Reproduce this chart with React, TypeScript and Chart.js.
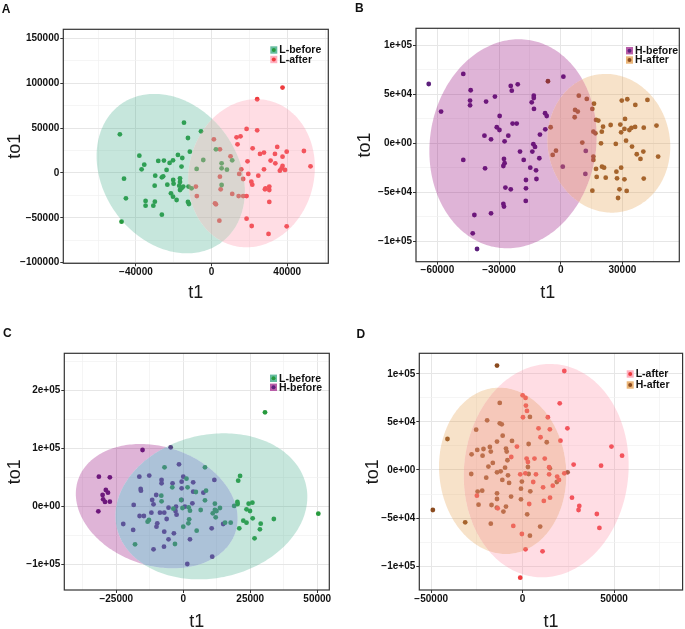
import React, { useEffect, useRef } from 'react';
import { Chart, registerables } from 'chart.js';
Chart.register(...registerables);

const M = '\u2212';
const FONT = "'Liberation Sans', Arial, Helvetica, sans-serif";

// ---------------- Panel A : L-before vs L-after ----------------
const A_L_before: [number, number][] = [
  [-48500, 43100], [-46300, -6300], [-45300, -28300], [-47600, -54300], [-38200, 19300], [-37000, 4100],
  [-35600, 9300], [-34900, -31200], [-34900, -36400], [-30000, -32000], [-30800, -36400], [-29800, -3000],
  [-30100, -14100], [-28200, 13400], [-25200, 13800], [-26300, -4800], [-25600, -3700], [-23800, 3400],
  [-23400, -13000], [-26300, -46500], [-22200, 11200], [-20400, 14100], [-21500, -22700], [-20400, -26400],
  [-20300, -7800], [-20100, -11900], [-18500, -30100], [-17800, 20100], [-16700, -6000], [-16700, -10000],
  [-17100, -14100], [-16700, -19000], [-15900, 7100], [-15500, 16700], [-15000, -15200], [-15900, -17100],
  [-14600, 56100], [-12500, 39000], [-12500, -32300], [-12000, -34600], [-11500, 23800], [-12200, -15200],
  [-10600, -17100], [-5600, 46500], [-4400, 14500], [-7900, 4500], [2300, 26400], [5300, 10800],
  [5300, 5200], [5300, -13400], [8100, 3700], [10900, 14100],
];
const A_L_after: [number, number][] = [
  [37500, 95200], [24100, 82200], [18500, 49100], [24100, 47600], [13200, 39800], [15300, 40900],
  [13700, 32000], [1200, 37500], [4400, 26400], [10000, 18600], [21700, 27500], [19000, 13000],
  [25600, 21200], [27700, 22700], [34700, 29000], [33500, 21200], [31200, 13800], [33700, 10800],
  [37500, 18200], [39700, 23800], [48800, 24500], [52300, 7400], [37500, 7800], [37000, 5200],
  [36100, 2600], [38800, 3400], [27700, 4100], [24700, -3000], [19400, -1100], [14600, -1100],
  [16700, -6700], [15700, 4100], [21000, -9700], [21500, -13000], [18500, -25700], [14300, -25700],
  [16700, -25700], [10900, -23400], [4800, -18200], [4400, -4100], [1800, -33800], [2300, -34900],
  [4100, -53200], [-8300, -15200], [-7800, -25700], [28500, -17100], [30500, -15200], [30500, -19000],
  [30500, -32300], [28200, -18200], [18500, -50900], [21200, -59100], [30100, -68000], [39700, -59500],
];
// ellipse: [centre x, centre y, half-width x, half-height y, correlation]
const A_ell_before = [-21600, -700, 39200, 88900, -0.22];
const A_ell_after = [21100, -300, 33500, 82600, 0.08];
const A_xMajor = [-40000, 0, 40000];
const A_xLabels = [M + '40000', '0', '40000'];
const A_xMinor = [-60000, -20000, 20000, 60000];
const A_yMajor = [-100000, -50000, 0, 50000, 100000, 150000];
const A_yLabels = [M + '100000', M + '50000', '0', '50000', '100000', '150000'];
const A_yMinor = [-75000, -25000, 25000, 75000, 125000];

// ---------------- Panel B : H-before vs H-after ----------------
const B_H_before: [number, number][] = [
  [-64200, 60600], [-58200, 32400], [-47400, 70900], [-47400, -17000], [-43800, 54200], [-44100, 43600],
  [-44100, 38800], [-42000, -73300], [-42800, -92000], [-40700, -108000], [-37100, 7800], [-36300, 42600],
  [-36800, -25600], [-33900, 4100], [-33900, -71600], [-32000, 47700], [-31100, 16400], [-29800, 13600],
  [-29700, 27900], [-27300, 2000], [-27600, -16000], [-27300, -20400], [-27900, -23200], [-26900, -45300],
  [-27900, -62000], [-27600, -64700], [-25500, 7800], [-24300, 58600], [-23800, 53800], [-24300, -47000],
  [-23400, 20100], [-21400, 20100], [-20900, 60300], [-19800, -8500], [-18000, -17000], [-16900, -46000],
  [-16900, -37500], [-17000, -58900], [-14800, -24900], [-14100, 41900], [-13100, 48700], [-13100, 46300],
  [-13000, 35100], [-13300, -1000], [-12500, -3700], [-13800, -8500], [-12000, -27600], [-11800, -36500],
  [-10100, 8900], [-10400, -15300], [-7600, 30700], [-6800, 27900], [-7500, 14300], [1300, 68100],
  [1000, -23900], [12000, -31300], [12200, -7800],
];
const B_H_after: [number, number][] = [
  [-6200, 63400], [-4900, 16400], [-3900, -11900], [-2300, -7500], [8800, 48700], [7000, 34100],
  [8300, 32400], [6800, 26600], [12700, 45300], [16200, 40500], [15400, 35100], [17200, 23900],
  [18300, 23200], [15900, 11900], [16900, 10200], [20600, 17000], [20000, 11900], [19600, 0],
  [10500, 700], [15900, -13600], [15900, -17000], [17200, -26200], [17500, -34400], [15400, -48400],
  [20100, -23900], [21100, -24900], [21900, -35100], [24300, 18700], [26800, -700], [27100, -29000],
  [27400, -35800], [28600, -47000], [27900, -55900], [29400, -24900], [29400, 11200], [29000, 19100],
  [29700, 43600], [32400, 45000], [31300, 24900], [31000, 14700], [31800, 2700], [31000, -36800],
  [32100, -48700], [33400, 13600], [34400, 15700], [34700, -3400], [36200, 16700], [36300, 39200],
  [37000, -11200], [38800, -16000], [40200, -8500], [40400, 16000], [40400, -36100], [42200, 44300],
  [46600, 18100], [47400, -13600],
];
const B_ell_before = [-23200, -500, 40700, 106800, 0.07];
const B_ell_after = [23400, 0, 29900, 70900, -0.05];
const B_xMajor = [-60000, -30000, 0, 30000];
const B_xLabels = [M + '60000', M + '30000', '0', '30000'];
const B_xMinor = [-45000, -15000, 15000, 45000];
const B_yMajor = [-100000, -50000, 0, 50000, 100000];
const B_yLabels = [M + '1e+05', M + '5e+04', '0e+00', '5e+04', '1e+05'];
const B_yMinor = [-75000, -25000, 25000, 75000];

// ---------------- Panel C : L-before vs H-before ----------------
const C_L_before: [number, number][] = [
  [30500, 162600], [50400, -12100], [33800, -21300], [21200, 52900], [20500, 44800], [20200, 8100],
  [20300, 4600], [24400, 5200], [25800, 6900], [23600, -4600], [24900, -7500], [25900, -20100],
  [22400, -24100], [23600, -27600], [20900, -37400], [28900, -29300], [28600, -39100], [26600, -54600],
  [-7000, 67800], [8100, 67800], [1200, 48300], [1600, 33300], [-4100, 33300], [8500, 27600],
  [4700, 25300], [-8200, 19000], [-8100, 9200], [-800, 11500], [8100, 10900], [-3700, -3500],
  [-300, -2300], [2000, -1200], [2500, -6900], [11800, 5200], [11800, -5800], [12400, -7500],
  [11000, -11500], [13700, -2300], [19000, 1200], [12100, -18400], [15600, -27600], [17700, -27600],
  [2200, -21800], [1900, -28700], [0, -34500], [5000, -41400], [-3100, -64400], [-18000, -64900],
  [-12800, -23000], [-13300, -25900], [6500, -5800],
];
const C_H_before: [number, number][] = [
  [-15200, 97700], [-31500, 51700], [-27400, 50600], [-28900, 28700], [-28100, 24100], [-30100, 20100],
  [-29900, 12600], [-29200, 8100], [-27400, 8600], [-31700, -8100], [-4700, 102300], [-1600, 73000],
  [-16400, 51700], [-12700, 53500], [-8100, 46000], [-8100, 40200], [-4000, 40200], [0, 51700],
  [-600, 43100], [3700, 42000], [11600, 46000], [-15900, 30500], [-15800, 27600], [-10100, 20100],
  [-11600, 11500], [-18500, 2900], [-16300, -16100], [-14700, -16100], [-11100, 4000], [-11900, -10300],
  [-8700, -10300], [-7100, -10300], [-5500, -1700], [-2900, -7500], [-2500, -13800], [-2700, 0],
  [-600, 31600], [-600, 11500], [3700, 25900], [3400, 5800], [7500, 24100], [-9700, -28700],
  [-10000, -34500], [-6200, -21300], [-7100, -43100], [-3500, -46000], [-5500, -56300], [-7200, -69000],
  [-11100, -73600], [2500, -56300], [-18700, -40200], [-22400, -29900], [10600, -37400], [10800, -86200],
  [1500, -98900], [14900, -29900], [600, 0],
];
const C_ell_L = [10500, 550, 35800, 125900, 0.13];
const C_ell_H = [-9900, 850, 30200, 107200, -0.2];
const C_xMajor = [-25000, 0, 25000, 50000];
const C_xLabels = [M + '25000', '0', '25000', '50000'];
const C_xMinor = [-37500, -12500, 12500, 37500];
const C_yMajor = [-100000, 0, 100000, 200000];
const C_yLabels = [M + '1e+05', '0e+00', '1e+05', '2e+05'];
const C_yMinor = [-50000, 50000, 150000, 250000];

// ---------------- Panel D : L-after vs H-after ----------------
const D_L_after: [number, number][] = [
  [22800, 102900], [20300, 69300], [24500, 43300], [20700, 30500], [48600, 24300], [54400, 14900],
  [27900, 5600], [42900, 4500], [27000, -28800], [31000, -37400], [30600, -41600], [40600, -45800],
  [42000, -60300], [10900, -84600], [1600, -82500], [-1300, -112000], [22800, -3500],
  [0, 77600], [1600, 74900], [1800, 66900], [2400, 61400], [200, 54800], [13800, 54800],
  [8700, 43300], [14900, 42300], [9800, 34000], [-3100, 24300], [-6200, 13500], [2200, 11800],
  [6500, 11800], [12100, 11800], [14500, 2800], [14500, -4500], [7300, -4500], [1500, -3500],
  [-1300, -4500], [2900, 8300], [5800, -12500], [11200, -18000], [18900, -6900], [19900, -10400],
  [16500, -16300], [11600, -32200], [15000, -28800], [3600, -35400], [-5100, -58200], [-400, -66600],
  [-13600, -39900], [-25000, -26700],
];
const D_H_after: [number, number][] = [
  [-14000, 108500], [-41100, 32200], [-49100, -41600], [-31400, -54400], [24600, -2400],
  [-12500, 69700], [-19400, 51600], [-25400, 41900], [-12500, 48500], [-11400, 47500], [-10900, 35700],
  [-5800, 30200], [-14000, 29500], [-9100, 22200], [-8700, 19100], [-27900, 16300], [-24800, 20800],
  [-21400, 21800], [-17900, 23900], [-17400, 19100], [-21900, 14900], [-16300, 7300], [-18700, 3500],
  [-14000, -2400], [-12000, -1400], [-9600, 2400], [-8300, 10100], [-8000, -5600], [-11100, -10400],
  [-7400, -13500], [-19900, -8000], [-28100, -4200], [-24600, -22500], [-22100, -21500], [-24100, -36100],
  [-17000, -36400], [-14000, -24300], [-14000, -30200], [-14100, -39200], [-10500, -43300], [-9100, -38100],
  [-6300, -27700], [-17400, -55800], [-900, -19400], [-900, -30500], [4000, 55100], [3300, 27000],
  [2900, 3100], [3300, -4200], [4200, -22200], [-400, -12100], [9600, -58900], [4000, -68300],
  [2500, -46100], [13200, 28800], [18700, -12500], [14900, 1700],
];
const D_ell_L = [12900, -700, 45100, 110900, 0.05];
const D_ell_H = [-10900, -900, 34800, 86500, -0.05];
const D_xMajor = [-50000, 0, 50000];
const D_xLabels = [M + '50000', '0', '50000'];
const D_xMinor = [-25000, 25000, 75000];
const D_yMajor = [-100000, -50000, 0, 50000, 100000];
const D_yLabels = [M + '1e+05', M + '5e+04', '0e+00', '5e+04', '1e+05'];
const D_yMinor = [-75000, -25000, 25000, 75000];

// ---------------- styles ----------------
const COL: any = {
  green: '#279a3d', red: '#ee3b3d', purple: '#5c1f7c', brown: '#8b4b1f',
};
// single-ellipse region fills
const FILL: any = {
  green: 'rgba(65,172,138,0.30)', red: 'rgba(255,142,165,0.30)',
  purple: 'rgba(148,8,122,0.30)', brown: 'rgba(228,158,75,0.30)',
};
// overlap region fills, one per panel
const OVERLAP: any = {
  A: 'rgba(182,175,163,0.51)', B: 'rgba(210,104,108,0.51)',
  C: 'rgba(92,135,179,0.51)', D: 'rgba(237,147,120,0.51)',
};
const KEY: any = {
  green: 'rgba(65,172,138,0.80)', red: 'rgba(255,142,165,0.70)',
  purple: 'rgba(148,8,122,0.65)', brown: 'rgba(228,158,75,0.75)',
};

const PANELS: any[] = [
  {
    letter: 'A', lx: 1.7, ly: 3.3,
    ox: 0, oy: 0, w: 340, h: 305, frame: { l: 63.3, t: 29.3, r: 328.3, b: 263.3 }, yTitleX: 15.5, xTitleY: 293,
    x: { min: -78400, max: 61700, major: A_xMajor, labels: A_xLabels, minor: A_xMinor },
    y: { min: -100700, max: 160200, major: A_yMajor, labels: A_yLabels, minor: A_yMinor },
    legend: { x: 270.3, y: 50, gap: 9.5 },
    series: [
      { label: 'L-before', data: A_L_before, ell: A_ell_before, c: 'green' },
      { label: 'L-after', data: A_L_after, ell: A_ell_after, c: 'red' },
    ],
  },
  {
    letter: 'B', lx: 355, ly: 1.7,
    ox: 340, oy: 0, w: 345, h: 305, frame: { l: 76, t: 28.3, r: 339.3, b: 261.7 }, yTitleX: 25, xTitleY: 293,
    x: { min: -70400, max: 57700, major: B_xMajor, labels: B_xLabels, minor: B_xMinor },
    y: { min: -121000, max: 117500, major: B_yMajor, labels: B_yLabels, minor: B_yMinor },
    legend: { x: 286, y: 50.7, gap: 9.3 },
    series: [
      { label: 'H-before', data: B_H_before, ell: B_ell_before, c: 'purple' },
      { label: 'H-after', data: B_H_after, ell: B_ell_after, c: 'brown' },
    ],
  },
  {
    letter: 'C', lx: 3, ly: 327.4,
    ox: 0, oy: 305, w: 340, h: 330, frame: { l: 64.3, t: 48.3, r: 329.3, b: 285 }, yTitleX: 15.2, xTitleY: 316.7,
    x: { min: -44400, max: 54500, major: C_xMajor, labels: C_xLabels, minor: C_xMinor },
    y: { min: -143700, max: 264400, major: C_yMajor, labels: C_yLabels, minor: C_yMinor },
    legend: { x: 270, y: 73.3, gap: 9 },
    series: [
      { label: 'L-before', data: C_L_before, ell: C_ell_L, c: 'green' },
      { label: 'H-before', data: C_H_before, ell: C_ell_H, c: 'purple' },
    ],
  },
  {
    letter: 'D', lx: 356.5, ly: 327.7,
    ox: 340, oy: 305, w: 345, h: 330, frame: { l: 79.3, t: 48.3, r: 344, b: 285 }, yTitleX: 33.3, xTitleY: 316.7,
    x: { min: -56500, max: 87500, major: D_xMajor, labels: D_xLabels, minor: D_xMinor },
    y: { min: -124800, max: 121300, major: D_yMajor, labels: D_yLabels, minor: D_yMinor },
    legend: { x: 286.7, y: 69, gap: 11 },
    series: [
      { label: 'L-after', data: D_L_after, ell: D_ell_L, c: 'red' },
      { label: 'H-after', data: D_H_after, ell: D_ell_H, c: 'brown' },
    ],
  },
];

const TITLE_HALF = 18 * 1.2 / 2;

function axisOptions(ax: any, size: number, horizontal: boolean, title: string) {
  const ticksAll = [...ax.major, ...ax.minor].sort((a, b) => a - b);
  const isMajor = (v: any) => ax.major.indexOf(v) >= 0;
  return {
    type: 'linear',
    position: horizontal ? 'bottom' : 'left',
    min: ax.min,
    max: ax.max,
    bounds: 'data',
    afterBuildTicks: (scale: any) => {
      scale.ticks = ticksAll.map((v) => ({ value: v }));
    },
    afterFit: (scale: any) => {
      if (horizontal) scale.height = size; else scale.width = size;
    },
    ticks: {
      autoSkip: false,
      maxRotation: 0,
      minRotation: 0,
      padding: horizontal ? 0 : 1,
      color: '#111',
      font: { family: FONT, size: 10, weight: 'bold' },
      callback: (v: any) => {
        const i = ax.major.indexOf(v);
        return i >= 0 ? ax.labels[i] : '';
      },
    },
    grid: {
      drawOnChartArea: true,
      drawTicks: true,
      tickLength: 3,
      color: (c: any) => (c.tick && isMajor(c.tick.value) ? '#e6e6e6' : '#f1f1f1'),
      lineWidth: (c: any) => (c.tick && isMajor(c.tick.value) ? 1 : 0.7),
      tickColor: (c: any) => (c.tick && isMajor(c.tick.value) ? '#333333' : 'rgba(0,0,0,0)'),
      tickWidth: 1,
    },
    border: { display: false },
    title: {
      display: true,
      text: title,
      color: '#1a1a1a',
      padding: 0,
      font: { family: FONT, size: 18, weight: 'normal', lineHeight: 1.2 },
    },
  };
}

function ellipsePath(xs: any, ys: any, ell: number[]) {
  const [cx, cy, rx, ry, rho] = ell;
  const k = Math.sqrt(1 - rho * rho);
  const p = new Path2D();
  const N = 240;
  for (let i = 0; i <= N; i++) {
    const t = (i / N) * Math.PI * 2;
    const vx = cx + rx * Math.cos(t);
    const vy = cy + ry * (rho * Math.cos(t) + k * Math.sin(t));
    const px = xs.getPixelForValue(vx);
    const py = ys.getPixelForValue(vy);
    if (i === 0) p.moveTo(px, py); else p.lineTo(px, py);
  }
  p.closePath();
  return p;
}

function decorPlugin(cfg: any) {
  return {
    id: 'decor',
    afterDatasetsDraw(chart: any) {
      const { ctx, chartArea: ca } = chart;
      const xs = chart.scales.x;
      const ys = chart.scales.y;
      const e1 = ellipsePath(xs, ys, cfg.series[0].ell);
      const e2 = ellipsePath(xs, ys, cfg.series[1].ell);
      const minus = (e: Path2D) => {
        const p = new Path2D();
        p.rect(-5000, -5000, 10000, 10000);
        p.addPath(e);
        return p;
      };
      const clipArea = () => {
        ctx.beginPath();
        ctx.rect(ca.left, ca.top, ca.right - ca.left, ca.bottom - ca.top);
        ctx.clip();
      };
      // region only in ellipse 1
      ctx.save(); clipArea(); ctx.clip(e1);
      ctx.fillStyle = FILL[cfg.series[0].c]; ctx.fill(minus(e2), 'evenodd');
      ctx.restore();
      // region only in ellipse 2
      ctx.save(); clipArea(); ctx.clip(e2);
      ctx.fillStyle = FILL[cfg.series[1].c]; ctx.fill(minus(e1), 'evenodd');
      ctx.restore();
      // overlap
      ctx.save(); clipArea(); ctx.clip(e1);
      ctx.fillStyle = OVERLAP[cfg.letter]; ctx.fill(e2);
      ctx.restore();

      // panel border
      ctx.save();
      ctx.strokeStyle = '#333333';
      ctx.lineWidth = 1.2;
      ctx.strokeRect(ca.left, ca.top, ca.right - ca.left, ca.bottom - ca.top);
      ctx.restore();

      // legend
      ctx.save();
      const lg = cfg.legend;
      cfg.series.forEach((s: any, i: number) => {
        const yy = lg.y + i * lg.gap;
        ctx.fillStyle = '#ffffff';
        ctx.fillRect(lg.x, yy - 3.7, 7, 7.4);
        ctx.fillStyle = KEY[s.c];
        ctx.fillRect(lg.x, yy - 3.7, 7, 7.4);
        ctx.beginPath();
        ctx.arc(lg.x + 3.5, yy, 2, 0, Math.PI * 2);
        ctx.fillStyle = COL[s.c];
        ctx.fill();
        ctx.fillStyle = '#111111';
        ctx.font = `bold 10.5px ${FONT}`;
        ctx.textBaseline = 'middle';
        ctx.textAlign = 'left';
        ctx.fillText(s.label, lg.x + 9, yy + 0.5);
      });
      ctx.restore();
    },
  };
}

function Panel({ cfg }: { cfg: any }) {
  const ref = useRef<HTMLCanvasElement | null>(null);
  useEffect(() => {
    if (!ref.current) return;
    const f = cfg.frame;
    const padLeft = cfg.yTitleX - TITLE_HALF;
    const yWidth = f.l - padLeft;
    const scaleBottom = cfg.xTitleY + TITLE_HALF;
    const padBottom = cfg.h - scaleBottom;
    const xHeight = scaleBottom - f.b;
    const chart = new Chart(ref.current, {
      type: 'scatter',
      data: {
        datasets: cfg.series.map((s: any) => ({
          label: s.label,
          data: s.data.map((p: [number, number]) => ({ x: p[0], y: p[1] })),
          backgroundColor: COL[s.c],
          borderWidth: 0,
          pointRadius: 2.4,
          pointHoverRadius: 2.4,
          showLine: false,
        })),
      },
      options: {
        responsive: false,
        maintainAspectRatio: false,
        devicePixelRatio: 1,
        animation: false,
        events: [],
        layout: { padding: { left: padLeft, right: cfg.w - f.r, top: f.t, bottom: padBottom } },
        plugins: { legend: { display: false }, tooltip: { enabled: false }, title: { display: false } },
        scales: {
          x: axisOptions(cfg.x, xHeight, true, 't1'),
          y: axisOptions(cfg.y, yWidth, false, 'to1'),
        },
      } as any,
      plugins: [decorPlugin(cfg)],
    } as any);
    return () => chart.destroy();
  }, []);
  return (
    <canvas
      ref={ref}
      width={cfg.w}
      height={cfg.h}
      style={{ position: 'absolute', left: cfg.ox, top: cfg.oy, width: cfg.w, height: cfg.h }}
    />
  );
}

export default function App() {
  return (
    <div
      style={{
        position: 'fixed', left: 0, top: 0, width: 685, height: 629, overflow: 'hidden',
        background: '#ffffff', fontFamily: FONT,
      }}
    >
      {PANELS.map((p) => (
        <Panel key={p.letter} cfg={p} />
      ))}
      {PANELS.map((p) => (
        <div
          key={'l' + p.letter}
          style={{
            position: 'absolute', left: p.lx, top: p.ly, fontSize: 12, lineHeight: '12px',
            fontWeight: 'bold', color: '#111', fontFamily: FONT,
          }}
        >
          {p.letter}
        </div>
      ))}
    </div>
  );
}
